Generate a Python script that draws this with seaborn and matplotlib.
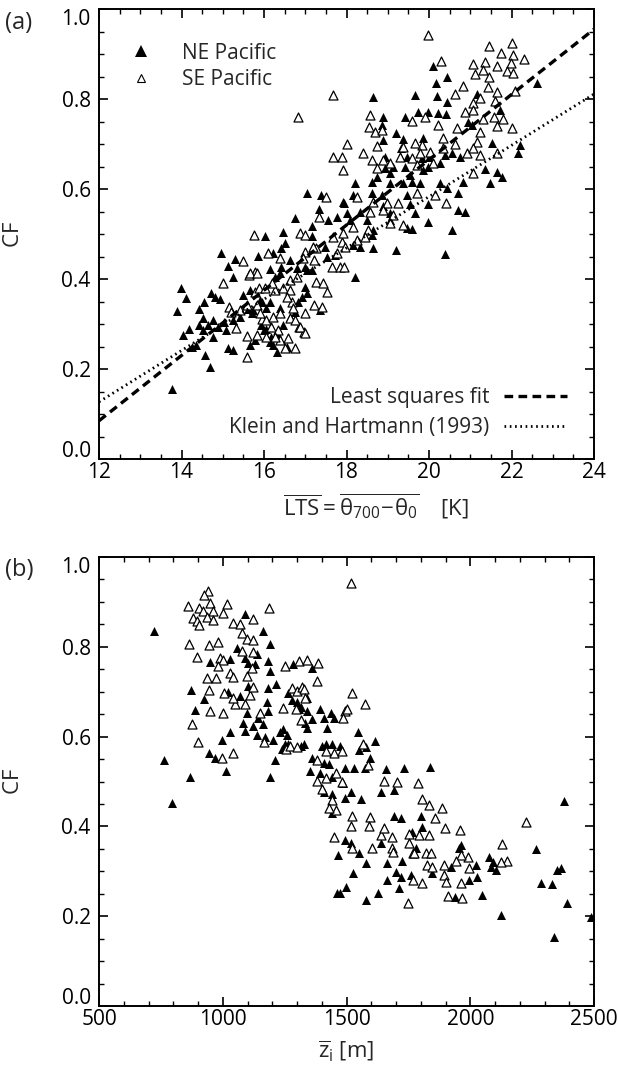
import matplotlib
matplotlib.use('Agg')
import matplotlib.pyplot as plt
import seaborn as sns
from matplotlib.ticker import MultipleLocator, FormatStrFormatter
from matplotlib.lines import Line2D
from matplotlib.transforms import ScaledTranslation

# ---------------- data ----------------
# Panel (a): LTS [K], CF
ne_a_points = [
    (14.96,0.458),(15.13,0.429),(15.30,0.444),(15.25,0.404),(15.86,0.451),(13.99,0.380),(14.10,0.357),
    (13.90,0.329),(14.03,0.275),(14.19,0.288),(14.42,0.333),(14.55,0.349),(14.72,0.369),(14.81,0.360),
    (14.93,0.356),(14.53,0.313),(14.43,0.298),(14.51,0.287),(14.65,0.298),(14.77,0.309),(14.77,0.271),
    (14.89,0.293),(15.02,0.304),(15.09,0.287),(14.57,0.231),(14.68,0.204),(13.77,0.155),(14.25,0.249),
    (14.34,0.254),(15.12,0.247),(15.26,0.309),(15.42,0.316),(15.48,0.364),(15.62,0.333),(15.70,0.325),
    (15.65,0.253),(15.78,0.264),(15.92,0.298),(15.99,0.287),(16.06,0.288),(15.94,0.349),(16.06,0.335),
    (16.18,0.271),(16.23,0.253),(16.31,0.238),(16.47,0.298),(16.55,0.249),(16.14,0.349),(16.39,0.335),
    (16.14,0.422),(16.27,0.404),(16.42,0.427),(16.51,0.480),(16.47,0.504),(16.02,0.496),(16.63,0.442),
    (16.75,0.327),(16.91,0.360),(16.99,0.382),(17.04,0.420),(17.05,0.591),(16.75,0.535),(17.38,0.587),
    (17.92,0.571),(17.33,0.556),(17.16,0.518),(17.16,0.496),(16.22,0.458),(16.42,0.469),(16.39,0.413),
    (16.79,0.424),(16.99,0.427),(17.16,0.420),(17.48,0.471),(17.52,0.449),(17.72,0.453),(17.76,0.538),
    (17.55,0.531),(15.66,0.376),(15.90,0.353),(16.83,0.349),(17.04,0.369),(17.36,0.331),(15.73,0.331),
    (16.31,0.280),(16.63,0.316),(15.25,0.242),(16.15,0.260),
    (20.10,0.873),(20.44,0.849),(20.17,0.836),(18.64,0.804),(19.66,0.809),(20.19,0.807),(21.17,0.811),
    (20.44,0.793),(22.62,0.836),(21.73,0.776),(19.73,0.771),(19.98,0.771),(20.22,0.769),(20.41,0.767),
    (19.42,0.760),(18.89,0.760),(18.85,0.742),(19.20,0.724),(20.95,0.749),(21.04,0.742),(18.89,0.709),
    (19.37,0.711),(19.85,0.713),(21.53,0.702),(22.21,0.698),(22.16,0.680),(19.33,0.691),(18.93,0.671),
    (19.46,0.671),(19.83,0.669),(20.00,0.671),(20.39,0.676),(20.55,0.680),(20.75,0.671),(18.93,0.647),
    (19.13,0.649),(19.42,0.649),(19.98,0.649),(20.27,0.658),(19.05,0.636),(19.54,0.631),(19.85,0.642),
    (21.36,0.644),(21.65,0.638),(21.77,0.627),(21.48,0.613),(18.21,0.613),(18.74,0.627),(18.62,0.616),
    (19.05,0.613),(19.37,0.613),(19.58,0.616),(19.78,0.613),(20.27,0.613),(20.83,0.616),(18.16,0.587),
    (18.62,0.591),(18.85,0.587),(19.46,0.587),(20.43,0.602),(20.70,0.591),(17.93,0.569),(18.89,0.562),
    (19.54,0.567),(19.98,0.567),(18.01,0.547),(18.33,0.549),(19.05,0.547),(19.67,0.547),(20.70,0.553),
    (20.87,0.549),(18.08,0.531),(18.49,0.531),(19.05,0.531),(18.65,0.509),(19.46,0.513),(19.58,0.511),
    (19.98,0.527),(20.55,0.509),(18.16,0.476),(18.33,0.471),(18.65,0.469),(19.21,0.464),(20.39,0.456),
    (18.21,0.404),(18.62,0.498),
]
se_a_points = [
    (15.48,0.440),(15.00,0.391),(15.16,0.338),(15.21,0.327),(15.33,0.291),(15.58,0.273),(15.58,0.227),
    (15.63,0.409),(15.78,0.416),(15.78,0.371),(15.87,0.380),(16.03,0.380),(16.10,0.458),(16.39,0.447),
    (16.27,0.376),(16.47,0.380),(16.63,0.376),(15.94,0.311),(16.06,0.271),(16.18,0.293),(16.35,0.287),
    (16.39,0.264),(16.51,0.247),(16.63,0.313),(16.84,0.293),(16.96,0.282),(16.87,0.502),(16.99,0.498),
    (15.75,0.498),(16.83,0.760),(17.67,0.809),(18.01,0.700),(17.67,0.671),(17.88,0.671),(17.92,0.642),
    (17.50,0.582),(17.33,0.538),(17.27,0.469),(16.99,0.460),(16.95,0.447),(17.20,0.442),(17.64,0.427),
    (17.84,0.427),(17.76,0.458),(17.88,0.482),(15.66,0.413),(15.82,0.413),(16.20,0.391),(16.63,0.398),
    (16.79,0.404),(17.27,0.393),(17.44,0.391),(17.52,0.371),(15.42,0.331),(15.59,0.342),(15.82,0.342),
    (15.90,0.324),(16.06,0.309),(16.22,0.316),(16.39,0.324),(16.67,0.349),(16.55,0.360),(16.71,0.336),
    (16.99,0.324),(17.20,0.342),(17.40,0.338),(16.75,0.309),(16.87,0.293),(16.99,0.280),(15.82,0.276),
    (16.27,0.271),(16.59,0.269),(16.75,0.247),(17.19,0.471),(17.67,0.493),
    (19.98,0.942),(21.45,0.918),(22.01,0.924),(21.75,0.902),(22.04,0.898),(22.30,0.889),(21.36,0.882),
    (21.07,0.878),(21.64,0.873),(21.99,0.880),(21.31,0.864),(21.88,0.862),(22.04,0.858),(21.12,0.856),
    (21.45,0.849),(20.29,0.884),(20.82,0.829),(21.43,0.827),(21.64,0.816),(22.08,0.818),(20.63,0.811),
    (21.24,0.802),(21.07,0.791),(21.60,0.796),(20.87,0.771),(21.07,0.776),(21.31,0.756),(21.58,0.760),
    (21.80,0.756),(21.64,0.740),(22.01,0.736),(19.59,0.751),(19.90,0.760),(20.22,0.742),(18.57,0.764),
    (18.55,0.738),(18.69,0.727),(18.85,0.731),(20.67,0.736),(21.24,0.727),(21.16,0.704),(20.35,0.713),
    (20.63,0.700),(19.83,0.698),(19.66,0.702),(19.37,0.693),(18.74,0.696),(18.40,0.680),(18.62,0.664),
    (18.89,0.664),(19.30,0.671),(19.59,0.669),(19.79,0.680),(20.03,0.682),(20.35,0.691),(20.92,0.680),
    (21.07,0.691),(21.24,0.676),(21.64,0.680),(18.74,0.647),(19.05,0.658),(19.71,0.653),(20.10,0.658),
    (21.07,0.636),(18.25,0.582),(18.65,0.571),(18.98,0.569),(19.25,0.569),(19.71,0.591),(20.15,0.587),
    (20.41,0.569),(18.57,0.549),(18.89,0.553),(19.13,0.542),(18.16,0.516),(18.52,0.509),(19.05,0.524),
    (19.37,0.520),(17.92,0.502),(18.25,0.487),(18.45,0.493),(17.97,0.471),(17.94,0.427),
]
# least-squares fit and Klein & Hartmann (1993) line end points
fit_lts = [12.0, 24.0]
fit_cf = [0.085, 0.955]
kh_lts = [12.0, 24.0]
kh_cf = [0.127, 0.811]

# Panel (b): z_i [m], CF
ne_b_points = [
    (722,0.836),(794,0.453),(762,0.547),(867,0.509),(871,0.704),(887,0.660),(923,0.684),(948,0.767),
    (944,0.564),(968,0.553),(997,0.593),(1012,0.524),(1028,0.611),(1020,0.700),(1028,0.773),(1057,0.798),
    (1089,0.873),(1161,0.836),(1190,0.807),(1089,0.776),(1101,0.764),(1129,0.762),(1137,0.784),(1101,0.713),
    (1069,0.691),(1097,0.653),(1081,0.631),(1089,0.613),(1121,0.624),(1141,0.642),(1137,0.604),(1161,0.627),
    (1177,0.676),(1181,0.658),(1169,0.600),(1202,0.593),(1230,0.611),(1242,0.618),(1258,0.604),(1190,0.509),
    (1210,0.547),(1238,0.573),(1250,0.584),(1181,0.769),(1190,0.747),(1181,0.709),(1214,0.718),(1283,0.762),
    (1262,0.696),(1278,0.682),(1298,0.676),(1318,0.667),(1339,0.656),(1331,0.631),(1327,0.584),
    (1359,0.753),(1339,0.687),(1310,0.662),(1359,0.640),(1339,0.620),(1391,0.662),(1411,0.642),(1439,0.653),
    (1423,0.620),(1451,0.642),(1399,0.580),(1419,0.584),(1443,0.584),(1472,0.580),(1359,0.553),(1351,0.524),
    (1391,0.518),(1443,0.509),(1411,0.476),(1443,0.473),(1484,0.496),(1492,0.464),(1443,0.429),(1262,0.584),
    (1318,0.580),(1548,0.611),(1617,0.591),(1552,0.571),(1580,0.576),(1593,0.553),(1411,0.542),(1431,0.540),
    (1492,0.531),(1532,0.531),(1573,0.531),(1661,0.527),(1734,0.531),(1838,0.533),(1693,0.482),(1641,0.476),
    (1560,0.462),(1520,0.476),(1802,0.424),(1693,0.424),(1722,0.418),(1806,0.398),(1766,0.387),(1492,0.369),
    (1520,0.362),(1641,0.362),(1782,0.353),(1956,0.353),(1464,0.336),(1552,0.340),(1580,0.318),(1665,0.318),
    (1726,0.324),(1528,0.296),(1700,0.298),(1722,0.287),(1762,0.291),(1665,0.280),(1847,0.296),(1923,0.309),
    (2024,0.313),(2028,0.287),(2077,0.331),(2093,0.320),(2085,0.309),(2105,0.302),(1996,0.280),(1460,0.251),
    (1472,0.251),(1496,0.264),(1629,0.251),(1714,0.262),(1580,0.236),(1940,0.242),(2048,0.247),(2125,0.202),
    (2379,0.456),(2266,0.349),(2286,0.273),(2330,0.271),(2351,0.304),(2367,0.307),(2391,0.229),(2339,0.153),
    (2488,0.198),(1963,0.358),
]
se_b_points = [
    (940,0.924),(923,0.916),(948,0.898),(858,0.891),(903,0.887),(919,0.880),(960,0.880),(1000,0.876),
    (1016,0.896),(879,0.864),(895,0.858),(903,0.849),(935,0.867),(960,0.860),(1041,0.853),(1069,0.851),
    (1077,0.831),(1121,0.862),(1186,0.887),(864,0.807),(944,0.804),(980,0.811),(1097,0.818),(1121,0.816),
    (1077,0.791),(1121,0.789),(895,0.778),(988,0.776),(1000,0.771),(980,0.758),(1028,0.742),(1040,0.733),
    (1097,0.736),(1117,0.753),(935,0.731),(972,0.731),(944,0.704),(1004,0.696),(1048,0.673),(1040,0.687),
    (1089,0.673),(1109,0.693),(1149,0.653),(1000,0.653),(948,0.658),(875,0.629),(899,0.589),(1040,0.564),
    (995,0.553),(1121,0.711),(1165,0.589),(1250,0.758),(1278,0.709),(1242,0.664),(1254,0.573),(1270,0.580),
    (1310,0.769),(1339,0.771),(1298,0.702),(1320,0.711),(1302,0.576),(1379,0.724),(1383,0.764),(1492,0.658),
    (1484,0.642),(1327,0.707),(1331,0.687),(1294,0.662),(1318,0.636),(1379,0.547),(1419,0.569),(1451,0.564),
    (1480,0.569),(1379,0.502),(1403,0.484),(1419,0.507),(1459,0.518),(1480,0.498),(1443,0.458),(1459,0.436),
    (1431,0.442),(1520,0.942),(1524,0.698),(1573,0.673),(1500,0.662),(1565,0.584),(1585,0.536),(1451,0.376),
    (1790,0.496),(1806,0.462),(1887,0.440),(1859,0.418),(1653,0.502),(1705,0.498),(1899,0.396),(1960,0.393),
    (2226,0.409),(2129,0.360),(2149,0.324),(2125,0.320),(1992,0.331),(1964,0.336),(1944,0.324),(1895,0.313),
    (1996,0.307),(1822,0.340),(1843,0.340),(1770,0.340),(1826,0.313),(1847,0.309),(1895,0.291),(1903,0.276),
    (1964,0.273),(1806,0.273),(1770,0.280),(1911,0.244),(1968,0.240),(1750,0.229),(1641,0.380),(1685,0.376),
    (1754,0.384),(1794,0.380),(1834,0.380),(1653,0.396),(1593,0.420),(1524,0.424),(1520,0.402),(1589,0.402),
    (1524,0.353),(1685,0.353),(1754,0.362),(1689,0.342),(1774,0.340),(1605,0.353),(1835,0.447),
]

# ---------------- style ----------------
sns.set_theme(style='white')
plt.rcParams['font.family'] = ['Open Sans', 'DejaVu Sans']
plt.rcParams['mathtext.fontset'] = 'custom'
plt.rcParams['mathtext.rm'] = 'Open Sans'
plt.rcParams['mathtext.it'] = 'Open Sans:italic'
plt.rcParams['mathtext.bf'] = 'Open Sans:bold'
plt.rcParams['mathtext.default'] = 'regular'

TICK_FS = 15
LEG_FS = 15
LAB_FS = 16
MS = 42

fig = plt.figure(figsize=(6.18, 10.72), dpi=100)
W, H = 618, 1072
ax1 = fig.add_axes([99 / W, 1 - 459 / H, 495 / W, 450 / H])
ax2 = fig.add_axes([99 / W, 1 - 1006 / H, 495 / W, 449 / H])


def style(ax):
    for s in ax.spines.values():
        s.set_visible(True)
        s.set_color('black')
        s.set_linewidth(1.4)
    ax.tick_params(which='both', direction='in', top=True, right=True,
                   bottom=True, left=True, colors='black', labelsize=TICK_FS)
    ax.tick_params(which='major', length=6.5, width=1.2)
    ax.tick_params(which='minor', length=3.5, width=1.0)
    ax.tick_params(axis='x', which='major', pad=2)
    ax.tick_params(axis='y', which='major', pad=6)
    ax.yaxis.set_major_locator(MultipleLocator(0.2))
    ax.yaxis.set_minor_locator(MultipleLocator(0.05))
    ax.yaxis.set_major_formatter(FormatStrFormatter('%.1f'))
    ax.grid(False)


def nudge_end_labels(ax):
    # the reference moves the 0.0 and 1.0 labels inward along the y axis
    fig.canvas.draw()
    for t in ax.yaxis.get_major_ticks():
        loc = t.get_loc()
        if abs(loc - 0.0) < 1e-6:
            t.label1.set_transform(t.label1.get_transform() +
                                   ScaledTranslation(0, 7 / 72, fig.dpi_scale_trans))
        elif abs(loc - 1.0) < 1e-6:
            t.label1.set_transform(t.label1.get_transform() +
                                   ScaledTranslation(0, -6 / 72, fig.dpi_scale_trans))


def scatter_pair(ax, ne, se):
    sns.scatterplot(x=[p[0] for p in ne], y=[p[1] for p in ne], ax=ax, marker='^',
                    color='black', s=MS, linewidth=0, zorder=3)
    sns.scatterplot(x=[p[0] for p in se], y=[p[1] for p in se], ax=ax, marker='^',
                    facecolor='white', edgecolor='black', s=MS, linewidth=0.9, zorder=3)


# ---------------- panel (a) ----------------
scatter_pair(ax1, ne_a_points, se_a_points)
sns.lineplot(x=fit_lts, y=fit_cf, ax=ax1, color='black', lw=2.4, zorder=4)
fit_line = ax1.lines[-1]
fit_line.set_dashes((2.6, 1.6))
sns.lineplot(x=kh_lts, y=kh_cf, ax=ax1, color='black', lw=2.0, zorder=4)
kh_line = ax1.lines[-1]
kh_line.set_dashes((0.6, 1.3))

ax1.set_xlim(12, 24)
ax1.set_ylim(0, 1.0)
ax1.xaxis.set_major_locator(MultipleLocator(2))
ax1.xaxis.set_minor_locator(MultipleLocator(0.5))
style(ax1)
ax1.set_ylabel(r'$\overline{\mathrm{CF}}$', fontsize=LAB_FS)
ax1.yaxis.set_label_coords(-0.150, 0.5)
ax1.set_xlabel(r'$\overline{\mathrm{LTS}} = \overline{\theta_{700}\!-\!\theta_0}$    [K]', fontsize=LAB_FS)
ax1.xaxis.set_label_coords(0.56, -0.072)

h_ne = Line2D([], [], marker='^', ls='none', color='black', markersize=8, mew=0)
h_se = Line2D([], [], marker='^', ls='none', markerfacecolor='white', markeredgecolor='black',
              markersize=5.5, mew=0.8)
leg1 = ax1.legend([h_ne, h_se], ['NE Pacific', 'SE Pacific'], loc='upper left',
                  bbox_to_anchor=(0.063, 0.925), frameon=False, fontsize=LEG_FS,
                  handlelength=1.0, handletextpad=1.5, labelspacing=0.25,
                  borderpad=0, borderaxespad=0)
ax1.add_artist(leg1)
h_fit = Line2D([], [], color='black', lw=2.4, dashes=(2.6, 1.6))
h_kh = Line2D([], [], color='black', lw=2.0, dashes=(0.6, 1.3))
ax1.legend([h_fit, h_kh], ['Least squares fit', 'Klein and Hartmann (1993)'],
           loc='lower right', bbox_to_anchor=(0.945, 0.046), frameon=False,
           fontsize=LEG_FS, markerfirst=False, handlelength=3.0, handletextpad=0.7,
           labelspacing=0.45, borderpad=0, borderaxespad=0)

# ---------------- panel (b) ----------------
scatter_pair(ax2, ne_b_points, se_b_points)
ax2.set_xlim(500, 2500)
ax2.set_ylim(0, 1.0)
ax2.xaxis.set_major_locator(MultipleLocator(500))
ax2.xaxis.set_minor_locator(MultipleLocator(100))
style(ax2)
ax2.set_ylabel(r'$\overline{\mathrm{CF}}$', fontsize=LAB_FS)
ax2.yaxis.set_label_coords(-0.150, 0.5)
ax2.set_xlabel(r'$\overline{\mathrm{z}}_{\mathrm{i}}$ [m]', fontsize=LAB_FS)
ax2.xaxis.set_label_coords(0.5, -0.072)

fig.text(5 / W, 1 - 23 / H, '(a)', fontsize=17, ha='left', va='center')
fig.text(5 / W, 1 - 570 / H, '(b)', fontsize=17, ha='left', va='center')

nudge_end_labels(ax1)
nudge_end_labels(ax2)

fig.savefig('out.png', dpi=100)
